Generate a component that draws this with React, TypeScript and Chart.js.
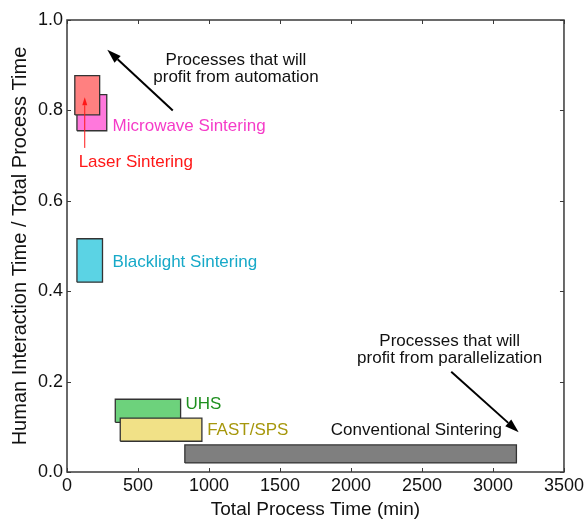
import React, { useEffect, useRef } from 'react';
import { Chart, registerables } from 'chart.js';

Chart.register(...registerables);

// ---- data ----
const processNames = ['Laser Sintering', 'Microwave Sintering', 'Blacklight Sintering', 'FAST/SPS', 'UHS', 'Conventional Sintering'];
const timeStart = [55, 70, 70, 375, 340, 830];
const timeEnd = [230, 280, 250, 950, 800, 3165];
const ratioStart = [0.79, 0.755, 0.42, 0.068, 0.11, 0.02];
const ratioEnd = [0.877, 0.835, 0.516, 0.119, 0.161, 0.06];
const fillColors = ['#ff8080', '#ff78dc', '#5bd3e4', '#f1e187', '#6dd27c', '#7f7f7f'];
const labelColors = ['#ff1818', '#f53cc8', '#17a9c8', '#a6970c', '#1f8f1f', '#111111'];

const xTickValues = [0, 500, 1000, 1500, 2000, 2500, 3000, 3500];
const yTickValues = [0, 0.2, 0.4, 0.6, 0.8, 1.0];

// annotation anchors (data units)
const labelAnchorX = [82, 321, 321, 987, 834, 1858];
const labelAnchorY = [0.686, 0.764, 0.465, 0.093, 0.1505, 0.093];

const noteLines = [
  ['Processes that will', 'profit from automation'],
  ['Processes that will', 'profit from parallelization'],
];
const noteX = [1190, 2695];
const noteY = [0.911, 0.289];

const arrowFrom = [
  [745, 0.8],
  [2706, 0.222],
  [125, 0.717],
];
const arrowTo = [
  [284, 0.934],
  [3181, 0.088],
  [125, 0.829],
];
const arrowColors = ['#000000', '#000000', '#ff1818'];

const FONT = "'Liberation Sans', Arial, Helvetica, sans-serif";
const AXIS_COLOR = '#3a3a3a';

function drawArrow(ctx: CanvasRenderingContext2D, x0: number, y0: number, x1: number, y1: number, color: string, width: number, headLen: number, headWidth: number) {
  const ang = Math.atan2(y1 - y0, x1 - x0);
  const bx = x1 - headLen * Math.cos(ang);
  const by = y1 - headLen * Math.sin(ang);
  ctx.strokeStyle = color;
  ctx.lineWidth = width;
  ctx.beginPath();
  ctx.moveTo(x0, y0);
  ctx.lineTo(bx, by);
  ctx.stroke();
  ctx.fillStyle = color;
  ctx.beginPath();
  ctx.moveTo(x1, y1);
  ctx.lineTo(bx + (headWidth / 2) * Math.sin(ang), by - (headWidth / 2) * Math.cos(ang));
  ctx.lineTo(bx - (headWidth / 2) * Math.sin(ang), by + (headWidth / 2) * Math.cos(ang));
  ctx.closePath();
  ctx.fill();
}

const framePlugin = {
  id: 'framePlugin',
  afterDatasetsDraw(chart: any) {
    const { ctx, chartArea, scales } = chart;
    const { left, right, top, bottom } = chartArea;
    const x = scales.x;
    const y = scales.y;
    ctx.save();
    // ticks inside on all four sides
    ctx.strokeStyle = AXIS_COLOR;
    ctx.lineWidth = 1;
    ctx.beginPath();
    xTickValues.forEach((v) => {
      const px = Math.round(x.getPixelForValue(v)) + 0.5;
      ctx.moveTo(px, bottom);
      ctx.lineTo(px, bottom - 4);
      ctx.moveTo(px, top);
      ctx.lineTo(px, top + 4);
    });
    yTickValues.forEach((v) => {
      const py = Math.round(y.getPixelForValue(v)) + 0.5;
      ctx.moveTo(left, py);
      ctx.lineTo(left + 4, py);
      ctx.moveTo(right, py);
      ctx.lineTo(right - 4, py);
    });
    ctx.stroke();
    // frame
    ctx.lineWidth = 1.5;
    ctx.strokeRect(left, top, right - left, bottom - top);

    // labels
    ctx.font = `17px ${FONT}`;
    ctx.textBaseline = 'middle';
    ctx.textAlign = 'left';
    processNames.forEach((name, i) => {
      ctx.fillStyle = labelColors[i];
      ctx.fillText(name, x.getPixelForValue(labelAnchorX[i]), y.getPixelForValue(labelAnchorY[i]));
    });
    ctx.textAlign = 'center';
    ctx.fillStyle = '#111111';
    noteLines.forEach((lines, i) => {
      const cx = x.getPixelForValue(noteX[i]);
      const cy = y.getPixelForValue(noteY[i]);
      lines.forEach((t, j) => ctx.fillText(t, cx, cy + j * 17));
    });

    // arrows
    arrowFrom.forEach((f, i) => {
      const t = arrowTo[i];
      const thin = i === 2;
      drawArrow(
        ctx,
        x.getPixelForValue(f[0]),
        y.getPixelForValue(f[1]),
        x.getPixelForValue(t[0]),
        y.getPixelForValue(t[1]),
        arrowColors[i],
        thin ? 1 : 2,
        thin ? 8 : 14,
        thin ? 5 : 9
      );
    });
    ctx.restore();
  },
};

export default function App() {
  const canvasRef = useRef<HTMLCanvasElement | null>(null);

  useEffect(() => {
    document.body.style.margin = '0';
    const canvas = canvasRef.current;
    if (!canvas) return;

    const datasets = processNames.map((name, i) => ({
      label: name,
      data: [
        { x: timeStart[i], y: ratioStart[i] },
        { x: timeEnd[i], y: ratioStart[i] },
        { x: timeEnd[i], y: ratioEnd[i] },
        { x: timeStart[i], y: ratioEnd[i] },
        { x: timeStart[i], y: ratioStart[i] },
      ],
      showLine: true,
      fill: 'shape',
      backgroundColor: fillColors[i],
      borderColor: '#333333',
      borderWidth: 1.3,
      pointRadius: 0,
      pointHoverRadius: 0,
      tension: 0,
    }));

    const chart = new Chart(canvas, {
      type: 'scatter',
      data: { datasets: datasets as any },
      options: {
        responsive: false,
        animation: false,
        devicePixelRatio: 1,
        layout: { padding: { top: 20, right: 21, left: 0, bottom: 0 } },
        plugins: {
          legend: { display: false },
          tooltip: { enabled: false },
        },
        scales: {
          x: {
            type: 'linear',
            min: 0,
            max: 3500,
            afterBuildTicks: (s: any) => {
              s.ticks = xTickValues.map((v) => ({ value: v }));
            },
            afterFit: (s: any) => {
              s.height = 47;
            },
            grid: { display: false, drawTicks: false },
            border: { display: false },
            ticks: {
              color: '#111111',
              font: { family: FONT, size: 18 },
              padding: 3,
              maxRotation: 0,
              autoSkip: false,
              callback: (v: any) => String(v),
            },
            title: {
              display: true,
              text: 'Total Process Time (min)',
              color: '#111111',
              font: { family: FONT, size: 19, lineHeight: 1 },
              padding: { top: 0, bottom: 0 },
            },
          },
          y: {
            type: 'linear',
            min: 0,
            max: 1,
            afterBuildTicks: (s: any) => {
              s.ticks = yTickValues.map((v) => ({ value: v }));
            },
            afterFit: (s: any) => {
              s.width = 67;
            },
            grid: { display: false, drawTicks: false },
            border: { display: false },
            ticks: {
              color: '#111111',
              font: { family: FONT, size: 18 },
              padding: 4,
              autoSkip: false,
              callback: (v: any) => Number(v).toFixed(1),
            },
            title: {
              display: true,
              text: 'Human Interaction Time / Total Process Time',
              color: '#111111',
              font: { family: FONT, size: 20, lineHeight: 1 },
              padding: { top: 10, bottom: 0 },
            },
          },
        },
      },
      plugins: [framePlugin],
    });

    return () => chart.destroy();
  }, []);

  return <canvas ref={canvasRef} width={587} height={519} style={{ display: 'block' }} />;
}
